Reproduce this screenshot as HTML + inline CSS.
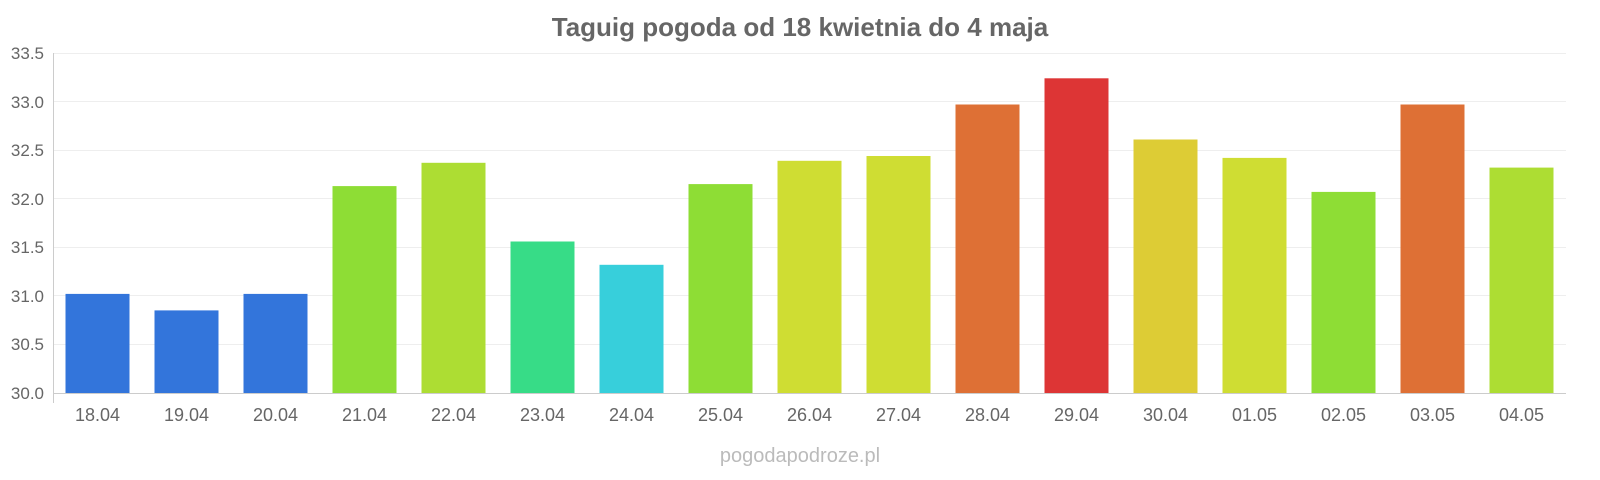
<!DOCTYPE html>
<html><head><meta charset="utf-8"><style>
html,body{margin:0;padding:0;background:#fff;width:1600px;height:480px;overflow:hidden;}
svg{display:block;}
svg text{font-family:"Liberation Sans",sans-serif;}
</style></head><body>
<svg width="1600" height="480" viewBox="0 0 1600 480" xmlns="http://www.w3.org/2000/svg">
<text x="800" y="36" text-anchor="middle" font-size="26" font-weight="bold" fill="#666">Taguig pogoda od 18 kwietnia do 4 maja</text>
<g stroke="#eee" stroke-width="1">
<line x1="53" x2="1566" y1="53.5" y2="53.5"/>
<line x1="53" x2="1566" y1="101.5" y2="101.5"/>
<line x1="53" x2="1566" y1="150.5" y2="150.5"/>
<line x1="53" x2="1566" y1="198.5" y2="198.5"/>
<line x1="53" x2="1566" y1="247.5" y2="247.5"/>
<line x1="53" x2="1566" y1="295.5" y2="295.5"/>
<line x1="53" x2="1566" y1="344.5" y2="344.5"/>
</g>
<g font-size="17" fill="#666" text-anchor="end">
<text x="44" y="59">33.5</text>
<text x="44" y="108">33.0</text>
<text x="44" y="156">32.5</text>
<text x="44" y="205">32.0</text>
<text x="44" y="253">31.5</text>
<text x="44" y="302">31.0</text>
<text x="44" y="350">30.5</text>
<text x="44" y="399">30.0</text>
</g>
<g>
<rect x="65.5" y="293.9" width="64" height="99.1" fill="#3375db"/>
<rect x="154.5" y="310.4" width="64" height="82.6" fill="#3375db"/>
<rect x="243.5" y="293.9" width="64" height="99.1" fill="#3375db"/>
<rect x="332.5" y="186.1" width="64" height="206.9" fill="#8edd35"/>
<rect x="421.5" y="162.8" width="64" height="230.2" fill="#addd33"/>
<rect x="510.5" y="241.5" width="64" height="151.5" fill="#37dc87"/>
<rect x="599.5" y="264.8" width="64" height="128.2" fill="#37cfdb"/>
<rect x="688.5" y="184.1" width="64" height="208.9" fill="#8edd35"/>
<rect x="777.5" y="160.8" width="64" height="232.2" fill="#cfdd33"/>
<rect x="866.5" y="156.0" width="64" height="237.0" fill="#cfdd33"/>
<rect x="955.5" y="104.5" width="64" height="288.5" fill="#de7035"/>
<rect x="1044.5" y="78.3" width="64" height="314.7" fill="#dd3535"/>
<rect x="1133.5" y="139.5" width="64" height="253.5" fill="#ddcc35"/>
<rect x="1222.5" y="157.9" width="64" height="235.1" fill="#cfdd33"/>
<rect x="1311.5" y="191.9" width="64" height="201.1" fill="#8edd35"/>
<rect x="1400.5" y="104.5" width="64" height="288.5" fill="#de7035"/>
<rect x="1489.5" y="167.6" width="64" height="225.4" fill="#addd33"/>
</g>
<line x1="53.5" y1="53" x2="53.5" y2="403" stroke="#ccc"/>
<line x1="53" y1="393.5" x2="1566" y2="393.5" stroke="#ccc"/>
<g font-size="18" fill="#666" text-anchor="middle">
<text x="97.5" y="421">18.04</text>
<text x="186.5" y="421">19.04</text>
<text x="275.5" y="421">20.04</text>
<text x="364.5" y="421">21.04</text>
<text x="453.5" y="421">22.04</text>
<text x="542.5" y="421">23.04</text>
<text x="631.5" y="421">24.04</text>
<text x="720.5" y="421">25.04</text>
<text x="809.5" y="421">26.04</text>
<text x="898.5" y="421">27.04</text>
<text x="987.5" y="421">28.04</text>
<text x="1076.5" y="421">29.04</text>
<text x="1165.5" y="421">30.04</text>
<text x="1254.5" y="421">01.05</text>
<text x="1343.5" y="421">02.05</text>
<text x="1432.5" y="421">03.05</text>
<text x="1521.5" y="421">04.05</text>
</g>
<text x="800" y="462" text-anchor="middle" font-size="20" fill="#bbb">pogodapodroze.pl</text>
</svg>
</body></html>
